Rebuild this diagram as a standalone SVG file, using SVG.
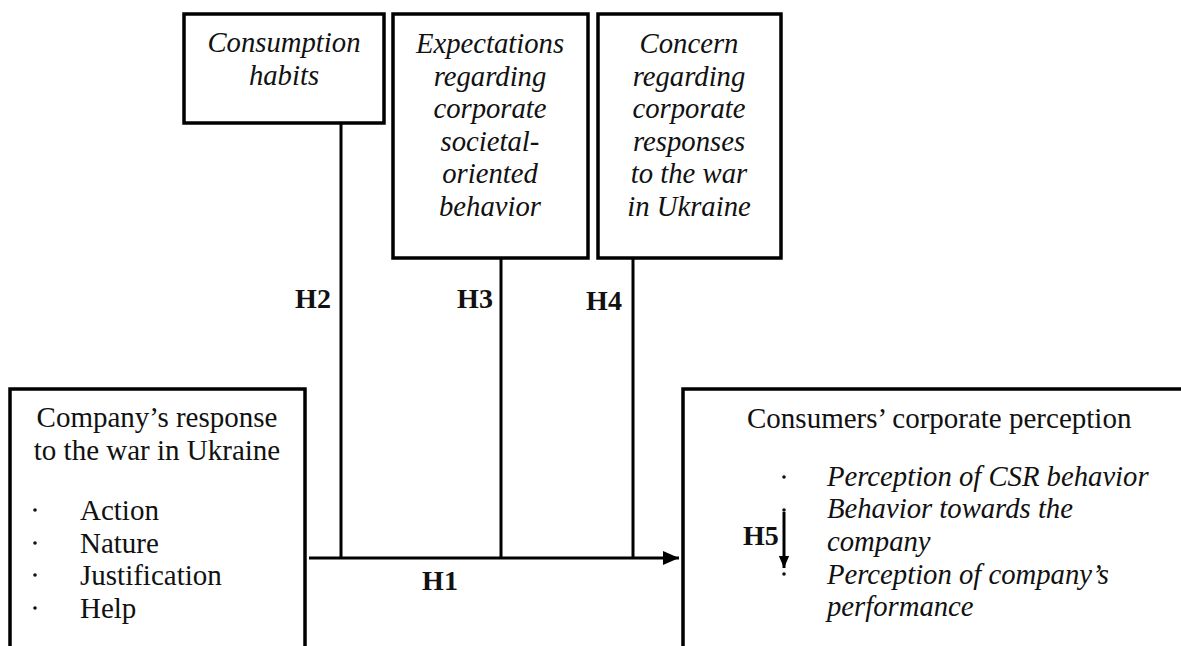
<svg xmlns="http://www.w3.org/2000/svg" width="1181" height="646" viewBox="0 0 1181 646">
<style>
.box{fill:#fff;stroke:#000;stroke-width:3.5}
text{font-family:'Liberation Serif','Times New Roman',Tinos,serif}
.t{font-size:29px;fill:#111}
.i{font-style:italic;font-size:28.7px}
.c{text-anchor:middle}
.h{font-size:28px;font-weight:bold;fill:#111}
.dot{fill:#111}
.ln{stroke:#000;stroke-width:3;fill:none}
</style>
<defs>
<marker id="ah" markerWidth="12" markerHeight="14" refX="14" refY="6" orient="auto" markerUnits="userSpaceOnUse" viewBox="0 0 14 12">
<path d="M0,0 L14,6 L0,12 z" fill="#000"/>
</marker>
<marker id="ah2" markerWidth="16" markerHeight="14" refX="16" refY="7" orient="auto" markerUnits="userSpaceOnUse" viewBox="0 0 16 14">
<path d="M0,0 L16,7 L0,14 z" fill="#000"/>
</marker>
</defs>
<rect width="1181" height="646" fill="#fff"/>
<g id="connectors">
<line class="ln" x1="341" y1="123" x2="341" y2="558"/>
<line class="ln" x1="501" y1="258" x2="501" y2="558"/>
<line class="ln" x1="633" y1="258" x2="633" y2="558"/>
<line class="ln" x1="309" y1="558" x2="679" y2="558" marker-end="url(#ah2)"/>
<text class="h" x="313" y="308" text-anchor="middle">H2</text>
<text class="h" x="475" y="308" text-anchor="middle">H3</text>
<text class="h" x="604" y="310" text-anchor="middle">H4</text>
<text class="h" x="440" y="590" text-anchor="middle">H1</text>
</g>
<g id="consumption-habits">
<rect class="box" x="184" y="14" width="200" height="109"/>
<text class="t i c" x="284" y="52">Consumption</text>
<text class="t i c" x="284" y="85">habits</text>
</g>
<g id="expectations">
<rect class="box" x="393" y="14" width="195" height="244"/>
<text class="t i c" x="490" y="53">Expectations</text>
<text class="t i c" x="490" y="85.5">regarding</text>
<text class="t i c" x="490" y="118">corporate</text>
<text class="t i c" x="490" y="150.5">societal-</text>
<text class="t i c" x="490" y="183">oriented</text>
<text class="t i c" x="490" y="215.5">behavior</text>
</g>
<g id="concern">
<rect class="box" x="598" y="14" width="183" height="244"/>
<text class="t i c" x="689" y="53">Concern</text>
<text class="t i c" x="689" y="85.5">regarding</text>
<text class="t i c" x="689" y="118">corporate</text>
<text class="t i c" x="689" y="150.5">responses</text>
<text class="t i c" x="689" y="183">to the war</text>
<text class="t i c" x="689" y="215.5">in Ukraine</text>
</g>
<g id="company-response">
<rect class="box" x="10" y="389" width="295" height="280"/>
<text class="t c" x="157" y="427">Company’s response</text>
<text class="t c" x="157" y="460">to the war in Ukraine</text>
<circle class="dot" cx="35" cy="510" r="1.8"/>
<text class="t" x="80" y="520">Action</text>
<circle class="dot" cx="35" cy="543" r="1.8"/>
<text class="t" x="80" y="553">Nature</text>
<circle class="dot" cx="35" cy="575" r="1.8"/>
<text class="t" x="80" y="585">Justification</text>
<circle class="dot" cx="35" cy="608" r="1.8"/>
<text class="t" x="80" y="618">Help</text>
</g>
<g id="consumer-perception">
<rect class="box" x="683" y="389" width="520" height="280"/>
<text class="t" x="747" y="428">Consumers’ corporate perception</text>
<circle class="dot" cx="784" cy="477" r="1.8"/>
<text class="t i" x="827" y="486">Perception of CSR behavior</text>
<circle class="dot" cx="784" cy="510" r="1.8"/>
<text class="t i" x="827" y="518">Behavior towards the</text>
<text class="t i" x="827" y="551">company</text>
<circle class="dot" cx="784" cy="574" r="1.8"/>
<text class="t i" x="827" y="584">Perception of company’s</text>
<text class="t i" x="827" y="616">performance</text>
<line class="ln" x1="784" y1="512" x2="784" y2="568" marker-end="url(#ah)"/>
<text class="h" x="743" y="545">H5</text>
</g>
</svg>
